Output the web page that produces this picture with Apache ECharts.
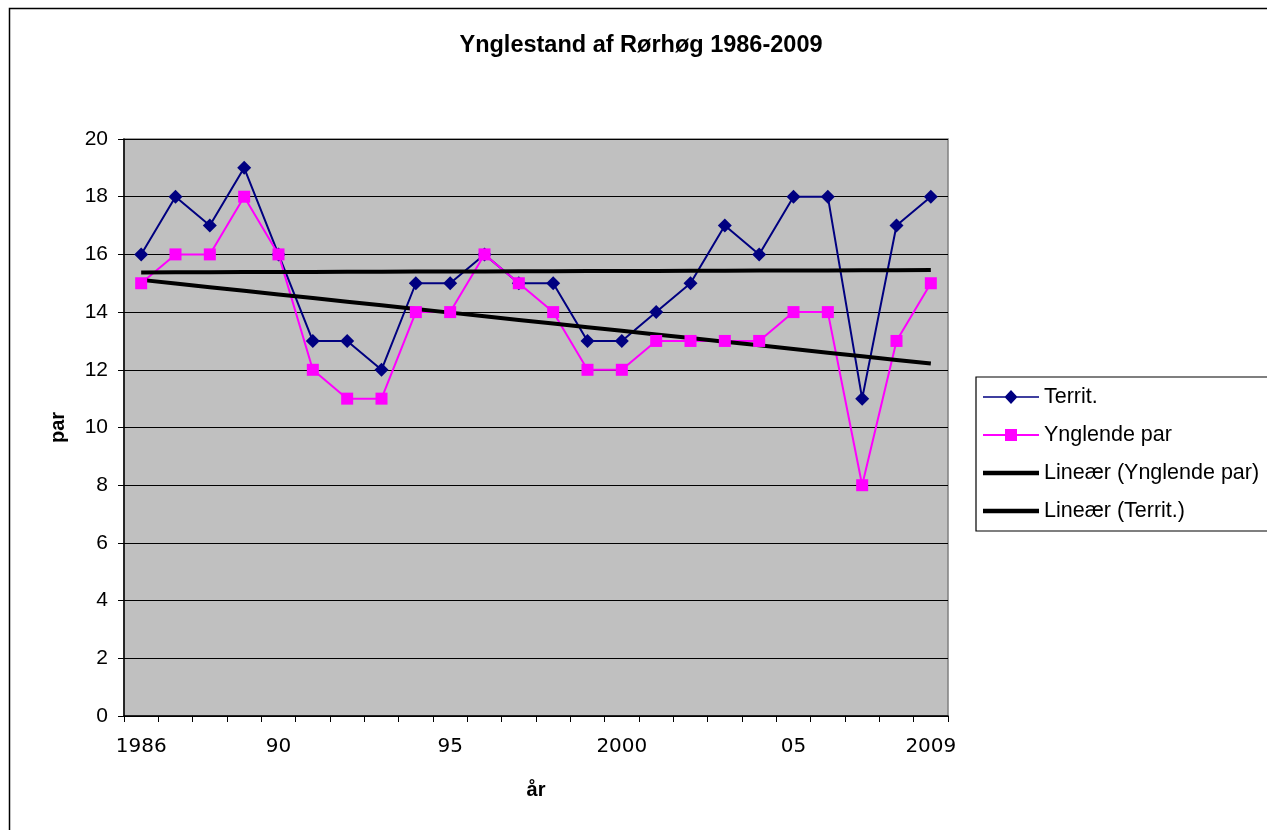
<!DOCTYPE html>
<html>
<head>
<meta charset="utf-8">
<script src="https://cdn.jsdelivr.net/npm/echarts@6/dist/echarts.min.js"></script>
<style>
  html, body { margin: 0; padding: 0; background: #fff; }
  #main { width: 1267px; height: 830px; }
</style>
</head>
<body>
<div id="main"></div>
<script>
var years = ["1986", "1987", "1988", "1989", "1990", "1991", "1992", "1993",
  "1994", "1995", "1996", "1997", "1998", "1999", "2000", "2001",
  "2002", "2003", "2004", "2005", "2006", "2007", "2008", "2009"];
var yearLabels = ["1986", "", "", "", "90", "", "", "", "", "95", "", "", "", "",
  "2000", "", "", "", "", "05", "", "", "", "2009"];
var territ = [16, 18, 17, 19, 16, 13, 13, 12, 15, 15, 16, 15, 15, 13, 13, 14,
  15, 17, 16, 18, 18, 11, 17, 18];
var ynglende = [15, 16, 16, 18, 16, 12, 11, 11, 14, 14, 16, 15, 14, 12, 12, 13,
  13, 13, 13, 14, 14, 8, 13, 15];

// least squares trend line, as the spreadsheet's "Lineær" trendline
function linearTrend(values) {
  var n = values.length, sx = 0, sy = 0, sxy = 0, sxx = 0;
  for (var i = 0; i < n; i++) {
    sx += i; sy += values[i]; sxy += i * values[i]; sxx += i * i;
  }
  var slope = (n * sxy - sx * sy) / (n * sxx - sx * sx);
  var icpt = (sy - slope * sx) / n;
  return values.map(function (v, i) { return +(icpt + slope * i).toFixed(4); });
}

// legend icons in a 56x22 box (tiny corner specks keep the box from being rescaled)
var corners = " M0,0 L0.01,0 L0,0.01 Z M56,22 L55.99,22 L56,21.99 Z";
var iconDiamond = "path://M0,10.25 L22.2,10.25 L28,4 L33.8,10.25 L56,10.25 L56,11.75 L33.8,11.75 L28,18 L22.2,11.75 L0,11.75 Z" + corners;
var iconSquare = "path://M0,10 L22,10 L22,5 L34,5 L34,10 L56,10 L56,12 L34,12 L34,17 L22,17 L22,12 L0,12 Z" + corners;
var iconThick = "path://M0,8.8 L56,8.8 L56,13.2 L0,13.2 Z" + corners;

var chartDom = document.getElementById("main");
var myChart = echarts.init(chartDom);
var option;
option = {
  animation: false,
  textStyle: { fontFamily: "Liberation Sans" },
  title: {
    text: "Ynglestand af Rørhøg 1986-2009",
    left: 636,
    textAlign: "center",
    top: 29,
    textStyle: { fontSize: 23.5, fontWeight: "bold", color: "#000", fontFamily: "Liberation Sans" },
  },
  graphic: [
    {
      type: "rect",
      left: 7,
      top: 6,
      shape: { width: 1300, height: 900 },
      style: { fill: "none", stroke: "#000", lineWidth: 1.5 },
      silent: true,
    },
  ],
  legend: {
    orient: "vertical",
    left: 976,
    top: 377,
    padding: [9, 30, 9, 7],
    itemGap: 16,
    itemWidth: 56,
    itemHeight: 22,
    symbolKeepAspect: false,
    borderColor: "#000",
    borderWidth: 1.2,
    selectedMode: false,
    textStyle: { fontSize: 21.5, color: "#000", fontFamily: "Liberation Sans" },
    data: [
      { name: "Territ.", icon: iconDiamond },
      { name: "Ynglende par", icon: iconSquare },
      { name: "Lineær (Ynglende par)", icon: iconThick },
      { name: "Lineær (Territ.)", icon: iconThick },
    ],
  },
  grid: {
    left: 124,
    top: 139,
    right: 319,
    bottom: 114,
    show: true,
    backgroundColor: "#C0C0C0",
    borderColor: "#808080",
    borderWidth: 1.5,
  },
  xAxis: {
    type: "category",
    data: years,
    boundaryGap: true,
    name: "år",
    nameLocation: "middle",
    nameGap: 64,
    nameTextStyle: { fontSize: 20, fontWeight: "bold", color: "#000", fontFamily: "Liberation Sans" },
    axisLine: { lineStyle: { color: "#000", width: 1.5 } },
    axisTick: { show: true, interval: 0, length: 6, lineStyle: { color: "#000" } },
    axisLabel: {
      interval: function (index) { return yearLabels[index] !== ""; },
      formatter: function (value, index) { return yearLabels[index]; },
      margin: 21,
      fontSize: 20,
      color: "#000",
      fontFamily: "DejaVu Sans",
    },
    splitLine: { show: false },
  },
  yAxis: {
    type: "value",
    min: 0,
    max: 20,
    interval: 2,
    name: "par",
    nameLocation: "middle",
    nameGap: 56,
    nameTextStyle: { fontSize: 20, fontWeight: "bold", color: "#000", fontFamily: "Liberation Sans" },
    axisLine: { show: true, lineStyle: { color: "#000", width: 1.5 } },
    axisTick: { show: true, length: 6, lineStyle: { color: "#000" } },
    axisLabel: { margin: 16, fontSize: 21, color: "#000", fontFamily: "Liberation Sans" },
    splitLine: { show: true, lineStyle: { color: "#000", width: 1 } },
  },
  series: [
    {
      name: "Territ.",
      type: "line",
      data: territ,
      symbol: "diamond",
      symbolSize: 14,
      itemStyle: { color: "#000080" },
      lineStyle: { color: "#000080", width: 2 },
    },
    {
      name: "Ynglende par",
      type: "line",
      data: ynglende,
      symbol: "rect",
      symbolSize: 12,
      itemStyle: { color: "#FF00FF" },
      lineStyle: { color: "#FF00FF", width: 2 },
    },
    {
      name: "Lineær (Ynglende par)",
      type: "line",
      data: linearTrend(ynglende),
      showSymbol: false,
      symbol: "none",
      itemStyle: { color: "#000" },
      lineStyle: { color: "#000", width: 4 },
    },
    {
      name: "Lineær (Territ.)",
      type: "line",
      data: linearTrend(territ),
      showSymbol: false,
      symbol: "none",
      itemStyle: { color: "#000" },
      lineStyle: { color: "#000", width: 4 },
    },
  ],
};

option && myChart.setOption(option);
</script>
</body>
</html>
